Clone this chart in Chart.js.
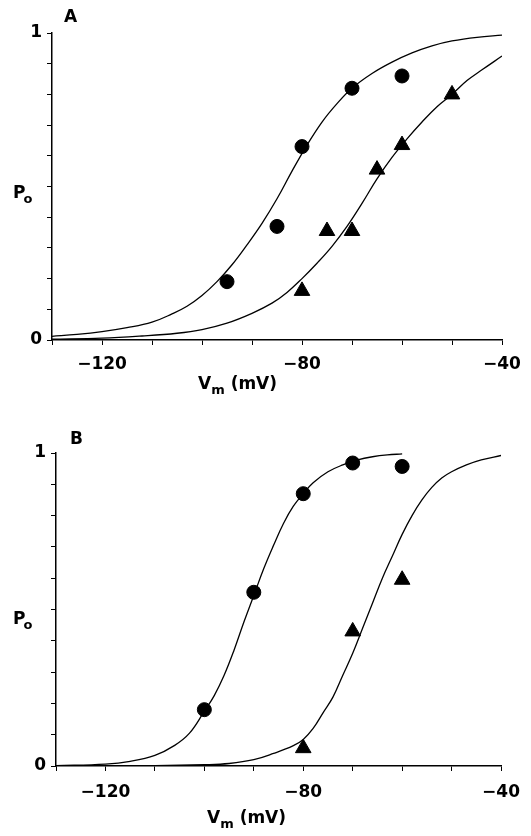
<!DOCTYPE html>
<html>
<head>
<meta charset="utf-8">
<script src="https://cdn.jsdelivr.net/npm/chart.js@4.4.1/dist/chart.umd.min.js"></script>
<style>
body { margin: 0; background: #fff; width: 531px; height: 836px; position: relative; overflow: hidden;
       font-family: "DejaVu Sans", sans-serif; font-weight: bold; color: #000; }
canvas { position: absolute; left: 0; }
.lbl { position: absolute; font-size: 17px; line-height: 1; white-space: nowrap; }
.lbl sub { font-size: 13px; vertical-align: -5px; line-height: 0; }
</style>
</head>
<body>
<canvas id="chartA" width="531" height="410" style="top:0"></canvas>
<canvas id="chartB" width="531" height="416" style="top:420px"></canvas>

<div class="lbl" style="left:64px;top:8px">A</div>
<div class="lbl" style="left:13px;top:184px">P<sub style="margin-left:-2px">o</sub></div>
<div class="lbl" style="left:198px;top:375px">V<sub>m</sub> (mV)</div>

<div class="lbl" style="left:70px;top:430px">B</div>
<div class="lbl" style="left:13px;top:610px">P<sub style="margin-left:-2px">o</sub></div>
<div class="lbl" style="left:207px;top:809px">V<sub>m</sub> (mV)</div>

<script>
// panel A: measured points
const vmA_circle = [-95, -85, -80, -70, -60];
const poA_circle = [0.19, 0.37, 0.63, 0.82, 0.86];
const vmA_tri = [-80, -75, -70, -65, -60, -50];
const poA_tri = [0.16, 0.355, 0.355, 0.555, 0.635, 0.80];
// panel A: fitted curves
const vmA_fit1 = [-130, -125, -120, -115, -110, -106, -103, -100, -97, -94, -91, -88, -85, -82, -79, -76, -73, -70, -66, -62, -58, -54, -50, -45, -40];
const poA_fit1 = [0.012, 0.018, 0.027, 0.04, 0.058, 0.085, 0.11, 0.145, 0.19, 0.245, 0.31, 0.38, 0.46, 0.55, 0.635, 0.71, 0.77, 0.82, 0.868, 0.905, 0.935, 0.958, 0.974, 0.986, 0.993];
const vmA_fit2 = [-130, -120, -112, -105, -100, -95, -90, -86, -83, -80, -77, -74, -71, -68, -65, -62, -59, -56, -53, -50, -47, -44, -40];
const poA_fit2 = [0.003, 0.006, 0.013, 0.022, 0.034, 0.055, 0.087, 0.12, 0.155, 0.2, 0.25, 0.305, 0.37, 0.445, 0.525, 0.595, 0.655, 0.71, 0.76, 0.8, 0.845, 0.88, 0.925];

// panel B: measured points
const vmB_circle = [-100, -90, -80, -70, -60];
const poB_circle = [0.18, 0.555, 0.87, 0.968, 0.957];
const vmB_tri = [-80, -70, -60];
const poB_tri = [0.057, 0.43, 0.595];
// panel B: fitted curves
const vmB_fit1 = [-130, -120, -115, -110, -106, -103, -100, -98, -96, -94, -92, -90, -88, -86, -84, -82, -80, -78, -75, -72, -69, -66, -63, -60];
const poB_fit1 = [0.001, 0.006, 0.015, 0.034, 0.066, 0.105, 0.175, 0.225, 0.29, 0.37, 0.46, 0.545, 0.63, 0.705, 0.775, 0.83, 0.87, 0.905, 0.94, 0.962, 0.978, 0.988, 0.994, 0.997];
const vmB_fit2 = [-130, -110, -100, -95, -90, -86, -82, -80, -78, -76, -74, -72, -70, -68, -66, -64, -62, -60, -58, -56, -54, -52, -50, -47, -44, -40];
const poB_fit2 = [0, 0.001, 0.004, 0.008, 0.02, 0.04, 0.065, 0.085, 0.12, 0.17, 0.22, 0.29, 0.36, 0.44, 0.52, 0.6, 0.67, 0.74, 0.8, 0.85, 0.89, 0.92, 0.94, 0.962, 0.978, 0.992];

// axis ticks
const xTickLabels = [-120, -80, -40];
const yTickLabels = [0, 1];

const pts = (xs, ys) => xs.map((x, i) => ({x: x, y: ys[i]}));
const tickFont = {family: '"DejaVu Sans", sans-serif', size: 17, weight: 'bold'};

function fitLine(xs, ys) {
    return {data: pts(xs, ys), showLine: true, pointRadius: 0, borderColor: '#000',
            borderWidth: 1.3, tension: 0.4, order: 2};
}
function marks(xs, ys, style, r) {
    return {data: pts(xs, ys), showLine: false, pointStyle: style, pointRadius: r,
            backgroundColor: '#000', borderColor: '#000', borderWidth: 1, order: 1};
}

function panel(id, datasets, yWidth, rightPad, xPad) {
    return new Chart(document.getElementById(id), {
        type: 'scatter',
        data: {datasets: datasets},
        options: {
            responsive: false,
            animation: false,
            layout: {padding: {top: 33, right: rightPad, left: 0, bottom: 0}},
            plugins: {legend: {display: false}, tooltip: {enabled: false}},
            scales: {
                x: {
                    type: 'linear', min: -130, max: -40,
                    afterFit: s => { s.height = 70; },
                    border: {display: true, color: '#000', width: 1.5},
                    grid: {display: true, drawOnChartArea: false, drawTicks: true, tickLength: 5, color: '#000', lineWidth: 1},
                    ticks: {
                        stepSize: 10, autoSkip: false, maxRotation: 0, padding: xPad, color: '#000', font: tickFont,
                        callback: v => xTickLabels.includes(v) ? '\u2212' + Math.abs(v) : ''
                    }
                },
                y: {
                    type: 'linear', min: 0, max: 1,
                    afterFit: s => { s.width = yWidth; },
                    border: {display: true, color: '#000', width: 1.5},
                    grid: {display: true, drawOnChartArea: false, drawTicks: true, tickLength: 5, color: '#000', lineWidth: 1},
                    ticks: {
                        stepSize: 0.1, autoSkip: false, padding: 5, color: '#000', font: tickFont,
                        callback: v => yTickLabels.includes(v) ? String(v) : ''
                    }
                }
            }
        }
    });
}

panel('chartA', [
    fitLine(vmA_fit1, poA_fit1),
    fitLine(vmA_fit2, poA_fit2),
    marks(vmA_circle, poA_circle, 'circle', 7),
    marks(vmA_tri, poA_tri, 'triangle', 9)
], 52, 29, 9);

panel('chartB', [
    fitLine(vmB_fit1, poB_fit1),
    fitLine(vmB_fit2, poB_fit2),
    marks(vmB_circle, poB_circle, 'circle', 7),
    marks(vmB_tri, poB_tri, 'triangle', 9)
], 56, 18, 11);
</script>
</body>
</html>
